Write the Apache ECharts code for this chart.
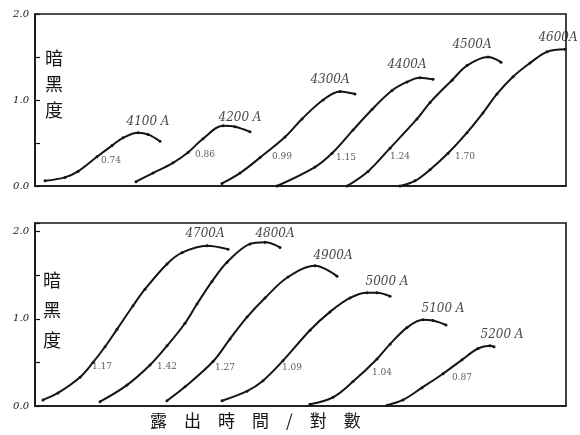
<!DOCTYPE html>
<html>
<head>
<meta charset="utf-8">
<script src="https://cdn.jsdelivr.net/npm/echarts@6/dist/echarts.min.js"></script>
<style>
  html, body { margin: 0; padding: 0; background: #fff; }
  #main { width: 580px; height: 435px; }
</style>
</head>
<body>
<div id="main"></div>
<script>
// x: log exposure time (arbitrary units), y: density
const topNames = ['4100 A', '4200 A', '4300A', '4400A', '4500A', '4600A'];
const topCurves = [
  [[1.0, 0.06], [3.0, 0.10], [4.3, 0.17], [6.2, 0.34], [7.7, 0.47], [8.8, 0.56], [10.3, 0.62], [11.3, 0.60], [12.5, 0.52]],
  [[10.1, 0.05], [11.8, 0.15], [13.8, 0.27], [15.3, 0.39], [16.8, 0.55], [18.8, 0.70], [20.0, 0.69], [21.5, 0.63]],
  [[18.7, 0.03], [20.5, 0.15], [22.5, 0.33], [25.0, 0.57], [26.7, 0.78], [28.8, 1.00], [30.5, 1.10], [32.0, 1.07]],
  [[24.2, 0.0], [28.0, 0.22], [29.7, 0.38], [31.8, 0.65], [33.7, 0.89], [35.7, 1.11], [37.2, 1.21], [38.5, 1.26], [39.8, 1.24]],
  [[31.2, 0.0], [33.3, 0.17], [35.5, 0.44], [38.2, 0.78], [39.5, 0.97], [41.7, 1.23], [43.2, 1.40], [45.3, 1.50], [46.6, 1.44]],
  [[36.5, 0.0], [38.0, 0.06], [39.5, 0.19], [41.3, 0.38], [43.2, 0.62], [44.8, 0.85], [46.2, 1.07], [47.8, 1.27], [49.5, 1.43], [51.2, 1.56], [53.0, 1.59]]
];
const topGamma = ['0.74', '0.86', '0.99', '1.15', '1.24', '1.70'];
const topNameAt = [[11.3, 0.74], [20.5, 0.79], [29.5, 1.23], [37.2, 1.41], [43.7, 1.64], [52.3, 1.72]];
const topGammaAt = [[7.6, 0.30], [17.0, 0.36], [24.7, 0.34], [31.1, 0.33], [36.5, 0.34], [43.0, 0.34]];

const botNames = ['4700A', '4800A', '4900A', '5000 A', '5100 A', '5200 A'];
const botCurves = [
  [[0.8, 0.07], [2.3, 0.15], [4.5, 0.33], [5.8, 0.50], [7.0, 0.68], [8.2, 0.88], [9.8, 1.15], [11.0, 1.34], [13.2, 1.63], [14.7, 1.76], [17.2, 1.84], [19.3, 1.80]],
  [[6.5, 0.05], [9.2, 0.24], [11.5, 0.47], [13.2, 0.69], [15.0, 0.95], [16.2, 1.17], [17.7, 1.43], [19.2, 1.65], [21.5, 1.86], [23.0, 1.88], [24.5, 1.82]],
  [[13.2, 0.06], [15.0, 0.22], [17.8, 0.51], [19.5, 0.77], [21.2, 1.02], [23.0, 1.24], [25.3, 1.48], [28.0, 1.61], [30.2, 1.49]],
  [[18.7, 0.06], [21.2, 0.17], [22.8, 0.29], [24.8, 0.52], [27.5, 0.87], [29.5, 1.08], [31.5, 1.24], [33.2, 1.30], [34.2, 1.30], [35.5, 1.26]],
  [[27.5, 0.02], [29.8, 0.10], [31.8, 0.28], [34.2, 0.54], [35.5, 0.71], [37.2, 0.90], [38.8, 0.99], [39.8, 0.98], [41.1, 0.93]],
  [[35.2, 0.01], [36.8, 0.07], [38.7, 0.21], [40.8, 0.37], [42.7, 0.53], [44.3, 0.66], [45.5, 0.69], [45.9, 0.68]]
];
const botGamma = ['1.17', '1.42', '1.27', '1.09', '1.04', '0.87'];
const botNameAt = [[17.0, 1.97], [24.0, 1.97], [29.8, 1.72], [35.2, 1.42], [40.8, 1.11], [46.7, 0.82]];
const botGammaAt = [[6.7, 0.45], [13.2, 0.45], [19.0, 0.44], [25.7, 0.44], [34.7, 0.38], [42.7, 0.33]];

const yTicks = ['0.0', '1.0', '2.0'];

const chart = echarts.init(document.getElementById('main'));
const ink = '#151515';
const serif = 'DejaVu Serif';

function yAxisFor(idx, max) {
  return {
    gridIndex: idx, type: 'value', min: 0, max: max, interval: 0.5,
    axisLine: { show: true, lineStyle: { color: ink, width: 1.6 } },
    axisTick: { show: true, inside: true, length: 5, lineStyle: { color: ink, width: 1.2 } },
    splitLine: { show: false },
    axisLabel: {
      color: ink, fontFamily: serif, fontStyle: 'italic', fontSize: 10, margin: 6,
      formatter: v => (v % 1 === 0 ? yTicks[v] : '')
    }
  };
}
function xAxisFor(idx) {
  return {
    gridIndex: idx, type: 'value', min: 0, max: 53.1,
    axisLine: { show: true, lineStyle: { color: ink, width: 1.6 } },
    axisTick: { show: false }, axisLabel: { show: false }, splitLine: { show: false }
  };
}

const series = [];
function addPanel(idx, curves, names, nameAt, gamma, gammaAt) {
  curves.forEach(c => {
    series.push({
      type: 'line', xAxisIndex: idx, yAxisIndex: idx, data: c, smooth: 0.35,
      symbol: 'circle', symbolSize: 3, showSymbol: true,
      lineStyle: { color: ink, width: 2 }, itemStyle: { color: ink }, silent: true
    });
  });
  series.push({
    type: 'scatter', xAxisIndex: idx, yAxisIndex: idx, symbolSize: 0,
    data: nameAt.map((p, i) => [p[0], p[1], names[i]]),
    label: { show: true, position: 'inside', formatter: p => p.value[2],
      color: ink, fontFamily: serif, fontStyle: 'italic', fontSize: 12 }
  });
  series.push({
    type: 'scatter', xAxisIndex: idx, yAxisIndex: idx, symbolSize: 0,
    data: gammaAt.map((p, i) => [p[0], p[1], gamma[i]]),
    label: { show: true, position: 'inside', formatter: p => p.value[2],
      color: '#333', fontFamily: serif, fontSize: 9 }
  });
}
addPanel(0, topCurves, topNames, topNameAt, topGamma, topGammaAt);
addPanel(1, botCurves, botNames, botNameAt, botGamma, botGammaAt);

const cjk = 'Noto Sans CJK TC';
chart.setOption({
  backgroundColor: '#fff',
  animation: false,
  grid: [
    { left: 35, right: 14, top: 14, height: 172, show: true, borderColor: ink, borderWidth: 1.6 },
    { left: 35, right: 14, top: 223, height: 183, show: true, borderColor: ink, borderWidth: 1.6 }
  ],
  xAxis: [xAxisFor(0), xAxisFor(1)],
  yAxis: [yAxisFor(0, 2), yAxisFor(1, 2.1)],
  graphic: [
    { type: 'text', left: 45, top: 45, style: { text: '暗\n黑\n度', font: '18px "' + cjk + '"', lineHeight: 26, fill: ink } },
    { type: 'text', left: 43, top: 265, style: { text: '暗\n黑\n度', font: '18px "' + cjk + '"', lineHeight: 30, fill: ink } },
    { type: 'text', left: 150, top: 412, style: { text: '露　出　時　間　/　對　數', font: '17px "' + cjk + '"', fill: ink } }
  ],
  series: series
});
</script>
</body>
</html>
